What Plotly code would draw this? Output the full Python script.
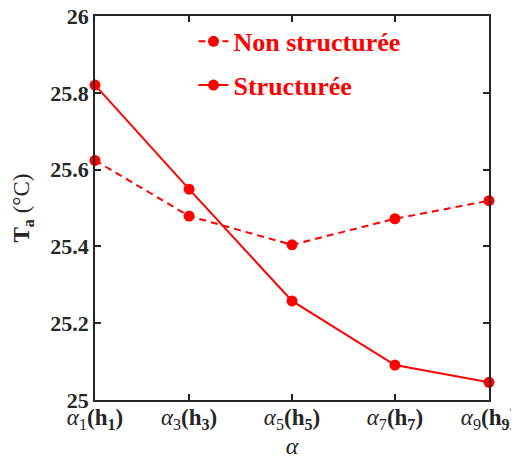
import plotly.graph_objects as go

# Data
x_pos = [1, 2.91, 5, 7.09, 9]
tick_labels = ["<i>α</i><sub>1</sub><b>(h<sub>1</sub>)</b>",
               "<i>α</i><sub>3</sub><b>(h<sub>3</sub>)</b>",
               "<i>α</i><sub>5</sub><b>(h<sub>5</sub>)</b>",
               "<i>α</i><sub>7</sub><b>(h<sub>7</sub>)</b>",
               "<i>α</i><sub>9</sub><b>(h<sub>9</sub>)</b>"]
non_structuree = [25.624, 25.479, 25.404, 25.472, 25.519]
structuree = [25.82, 25.549, 25.258, 25.091, 25.046]
y_ticks = [25, 25.2, 25.4, 25.6, 25.8, 26]
y_tick_text = ["25", "25.2", "25.4", "25.6", "25.8", "26"]

RED = "#ff0000"
FONT = "Liberation Serif"
AX = "#262626"

fig = go.Figure()
fig.add_trace(go.Scatter(
    x=x_pos, y=non_structuree, mode="lines+markers", name="<b>Non structurée</b>",
    line=dict(color=RED, width=2, dash="7px,5px"),
    marker=dict(color=RED, size=11, symbol="circle"),
    legendgroup="a"))
fig.add_trace(go.Scatter(
    x=x_pos, y=structuree, mode="lines+markers", name="<b>Structurée</b>",
    line=dict(color=RED, width=2),
    marker=dict(color=RED, size=11, symbol="circle"),
    legendgroup="b"))

axis_common = dict(
    showline=True, linecolor=AX, linewidth=1.5, mirror="ticks",
    ticks="inside", ticklen=6, tickcolor=AX, tickwidth=1.5,
    showgrid=False, zeroline=False, automargin=False,
    ticklabeloverflow="allow",
)

fig.update_layout(
    width=503, height=455,
    margin=dict(l=87, r=22, t=8, b=63, autoexpand=False),
    paper_bgcolor="white", plot_bgcolor="white",
    font=dict(family=FONT, color=AX),
    showlegend=True,
    legend=dict(x=0.25, y=0.995, xanchor="left", yanchor="top",
                bgcolor="rgba(0,0,0,0)", tracegroupgap=7,
                font=dict(family=FONT, size=26, color=RED)),
    xaxis=dict(range=[1, 9], tickvals=x_pos, ticktext=tick_labels,
               tickfont=dict(family=FONT, size=23, color=AX),
               ticklabelstandoff=-4,
               title=dict(text="<i>α</i>", font=dict(family=FONT, size=24, color=AX), standoff=2),
               **axis_common),
    yaxis=dict(range=[25, 26], tickvals=y_ticks, ticktext=["<b>%s</b>" % t for t in y_tick_text],
               tickfont=dict(family=FONT, size=22, color=AX),
               title=dict(text="<b>T<sub>a</sub></b> (°C)", font=dict(family=FONT, size=23, color=AX), standoff=14),
               **axis_common),
)
fig.update_traces(cliponaxis=False)

fig.write_html("out.html")
